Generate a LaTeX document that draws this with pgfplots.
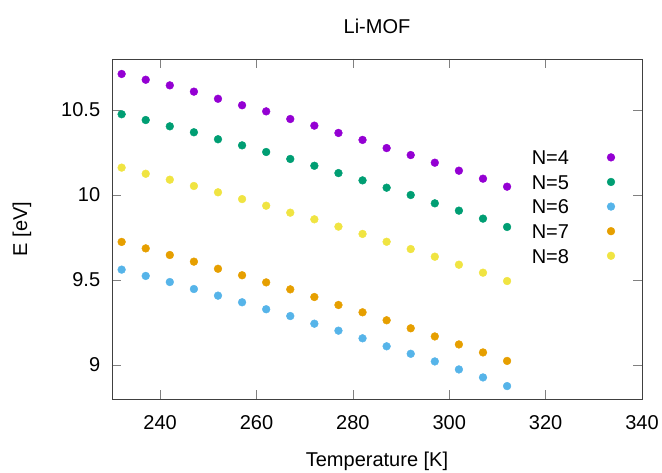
\documentclass[border=0pt]{standalone}
\usepackage{fontspec}
\setmainfont{Liberation Sans}
\usepackage{pgfplots}
\pgfplotsset{compat=1.18}
\definecolor{c4}{HTML}{9400D3}
\definecolor{c5}{HTML}{009E73}
\definecolor{c6}{HTML}{56B4E9}
\definecolor{c7}{HTML}{E69F00}
\definecolor{c8}{HTML}{F0E442}
\begin{document}
\fontsize{20}{24}\selectfont
\begin{tikzpicture}
\begin{axis}[name=ax,
  scale only axis, width=530pt, height=340pt,
  xmin=230, xmax=340, ymin=8.8, ymax=10.8,
  xtick={240,260,280,300,320,340},
  ytick={9,9.5,10,10.5},
  yticklabels={9,9.5,10,10.5},
  /pgf/number format/assume math mode=true,
  tick align=inside, major tick length=9pt,
  tick style={black!50, line width=0.8pt},
  axis line style={black!75, line width=0.8pt},
  xticklabel style={yshift=-10pt},
  yticklabel style={xshift=-5pt},
  title={Li-MOF},
  title style={at={(axis description cs:0.5,1.079)}, anchor=center},
  xlabel={Temperature [K]},
  xlabel style={at={(axis description cs:0.5,-0.182)}, anchor=center},
  ylabel={E [eV]},
  ylabel style={at={(axis description cs:-0.170,0.5)}, anchor=center},
  legend plot pos=right,
  legend cell align=left,
  legend image code/.code={\path[draw=none] (0pt,-4pt) -- (45pt,4pt); \draw[#1] plot[only marks] coordinates {(42pt,0pt)};},
  legend style={draw=none, fill=none, inner sep=0pt, outer sep=0pt,
    at={(axis description cs:0.792,0.732)}, anchor=north west,
    nodes={inner sep=0pt, text height=14.5pt, text depth=0pt},
    row sep=10.1pt},
  every axis plot/.append style={only marks, mark=*, mark size=3.9pt},
]
\addplot[c4, mark options={draw=c4, fill=c4}] coordinates {
(232,10.712)(237,10.678)(242,10.645)(247,10.608)(252,10.566)(257,10.528)(262,10.492)(267,10.447)(272,10.408)(277,10.365)(282,10.324)(287,10.276)(292,10.235)(297,10.19)(302,10.143)(307,10.096)(312,10.049)};
\addlegendentry{N=4}
\addplot[c5, mark options={draw=c5, fill=c5}] coordinates {
(232,10.475)(237,10.441)(242,10.404)(247,10.369)(252,10.328)(257,10.292)(262,10.253)(267,10.212)(272,10.172)(277,10.129)(282,10.086)(287,10.043)(292,10.0)(297,9.951)(302,9.908)(307,9.861)(312,9.812)};
\addlegendentry{N=5}
\addplot[c6, mark options={draw=c6, fill=c6}] coordinates {
(232,9.561)(237,9.524)(242,9.488)(247,9.447)(252,9.408)(257,9.369)(262,9.328)(267,9.288)(272,9.243)(277,9.202)(282,9.157)(287,9.11)(292,9.066)(297,9.021)(302,8.974)(307,8.927)(312,8.876)};
\addlegendentry{N=6}
\addplot[c7, mark options={draw=c7, fill=c7}] coordinates {
(232,9.724)(237,9.686)(242,9.647)(247,9.608)(252,9.566)(257,9.528)(262,9.486)(267,9.445)(272,9.4)(277,9.353)(282,9.31)(287,9.263)(292,9.216)(297,9.168)(302,9.121)(307,9.074)(312,9.024)};
\addlegendentry{N=7}
\addplot[c8, mark options={draw=c8, fill=c8}] coordinates {
(232,10.161)(237,10.125)(242,10.09)(247,10.053)(252,10.016)(257,9.976)(262,9.937)(267,9.896)(272,9.857)(277,9.814)(282,9.771)(287,9.725)(292,9.682)(297,9.637)(302,9.59)(307,9.543)(312,9.494)};
\addlegendentry{N=8}
\end{axis}
\pgfresetboundingbox
\path[use as bounding box] ([shift={(-112pt,-73pt)}]ax.south west) rectangle ++(662pt,472pt);
\end{tikzpicture}
\end{document}
